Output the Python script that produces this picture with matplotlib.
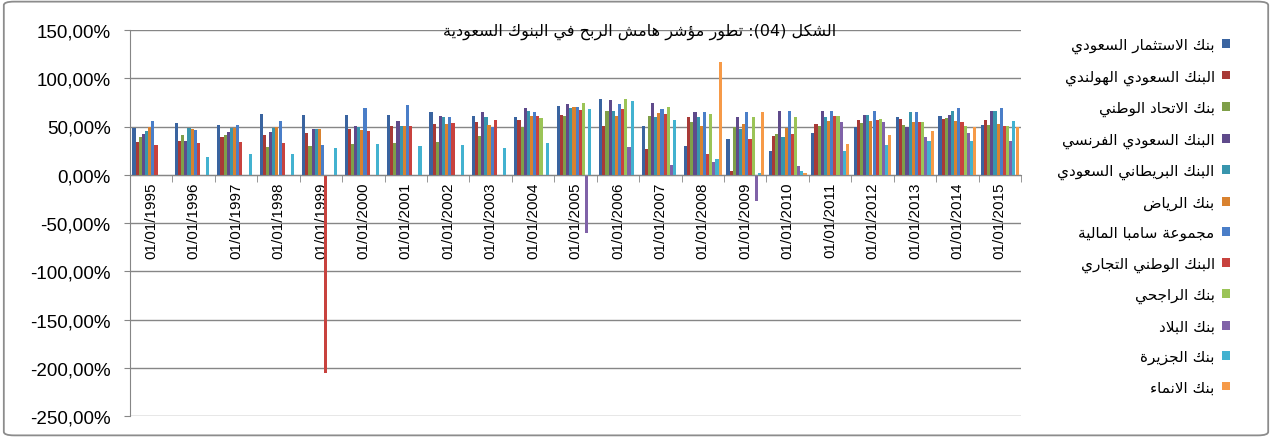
import numpy as np
import matplotlib.pyplot as plt
from matplotlib.patches import FancyBboxPatch

# ================= DATA (profit margin, %) =================
years = ["01/01/%d" % y for y in range(1995, 2016)]

banks = [
    "بنك الاستثمار السعودي",
    "البنك السعودي الهولندي",
    "بنك الاتحاد الوطني",
    "البنك السعودي الفرنسي",
    "البنك البريطاني السعودي",
    "بنك الرياض",
    "مجموعة سامبا المالية",
    "البنك الوطني التجاري",
    "بنك الراجحي",
    "بنك البلاد",
    "بنك الجزيرة",
    "بنك الانماء",
]

saib   = [48, 54, 52, 63, 62, 62, 62, 65, 61, 60, 71, 79, 51, 30, 37, 25, 43, 50, 60, 61, 52]
shb    = [34, 35, 39, 41, 43, 47, 51, 53, 55, 57, 62, 51, 27, 60, 4, 40, 53, 57, 58, 58, 57]
anb    = [39, 41, 41, 29, 30, 32, 33, 34, 40, 49, 61, 66, 61, 55, 50, 42, 51, 54, 52, 59, 52]
bsf    = [42, 35, 44, 44, 47, 51, 56, 61, 65, 69, 73, 77, 74, 65, 60, 66, 66, 62, 50, 62, 66]
sabb   = [45, 48, 48, 48, 47, 49, 51, 60, 60, 66, 69, 66, 60, 60, 47, 39, 60, 62, 65, 66, 66]
riyad  = [49, 47, 48, 50, 47, 46, 51, 53, 52, 61, 70, 61, 64, 51, 53, 48, 56, 56, 55, 56, 53]
samba  = [56, 46, 52, 56, 31, 69, 72, 60, 49, 65, 70, 73, 68, 65, 65, 66, 66, 66, 65, 69, 69]
ncb    = [31, 33, 34, 33, -205, 45, 51, 54, 57, 61, 67, 68, 63, 21, 37, 42, 61, 57, 55, 55, 51]
rajhi  = [0, 0, 0, 0, 0, 0, 0, 0, 0, 59, 74, 79, 70, 63, 60, 60, 61, 58, 55, 51, 51]
bilad  = [0, 0, 0, 0, 0, 0, 0, 0, 0, 0, -60, 29, 10, 13, -27, 9, 55, 55, 39, 43, 35]
jazira = [0, 18, 22, 22, 28, 32, 30, 31, 28, 33, 68, 76, 57, 16, 2, 4, 25, 31, 35, 35, 56]
inma   = [0, 0, 0, 0, 0, 0, 0, 0, 0, 0, 0, 0, 0, 117, 65, 2, 32, 41, 45, 49, 49]

series = [saib, shb, anb, bsf, sabb, riyad, samba, ncb, rajhi, bilad, jazira, inma]
colors = ["#3A64A0", "#A83A37", "#7F9F49", "#5F4A8B", "#3895AD", "#D9822F",
          "#4A7EC8", "#C8423E", "#9BC457", "#8062A8", "#43B2D0", "#F69A48"]

title = "الشكل (04): تطور مؤشر هامش الربح في البنوك السعودية"

# ================= ARABIC SHAPING =================
# matplotlib has no complex text layout, so map letters to presentation forms
# (iso code, number of forms) -> iso, final, initial, medial
FORMS = {
    '\u0621': (0xFE80, 1), '\u0622': (0xFE81, 2), '\u0623': (0xFE83, 2),
    '\u0624': (0xFE85, 2), '\u0625': (0xFE87, 2), '\u0626': (0xFE89, 4),
    '\u0627': (0xFE8D, 2), '\u0628': (0xFE8F, 4), '\u0629': (0xFE93, 2),
    '\u062A': (0xFE95, 4), '\u062B': (0xFE99, 4), '\u062C': (0xFE9D, 4),
    '\u062D': (0xFEA1, 4), '\u062E': (0xFEA5, 4), '\u062F': (0xFEA9, 2),
    '\u0630': (0xFEAB, 2), '\u0631': (0xFEAD, 2), '\u0632': (0xFEAF, 2),
    '\u0633': (0xFEB1, 4), '\u0634': (0xFEB5, 4), '\u0635': (0xFEB9, 4),
    '\u0636': (0xFEBD, 4), '\u0637': (0xFEC1, 4), '\u0638': (0xFEC5, 4),
    '\u0639': (0xFEC9, 4), '\u063A': (0xFECD, 4), '\u0641': (0xFED1, 4),
    '\u0642': (0xFED5, 4), '\u0643': (0xFED9, 4), '\u0644': (0xFEDD, 4),
    '\u0645': (0xFEE1, 4), '\u0646': (0xFEE5, 4), '\u0647': (0xFEE9, 4),
    '\u0648': (0xFEED, 2), '\u0649': (0xFEEF, 2), '\u064A': (0xFEF1, 4),
}
LAM_ALEF = {'\u0627': 0xFEFB, '\u0623': 0xFEF7, '\u0625': 0xFEF9, '\u0622': 0xFEF5}
MIRROR = {'(': ')', ')': '('}


def shape(s):
    toks = []
    i = 0
    while i < len(s):
        c = s[i]
        if c == '\u0644' and i + 1 < len(s) and s[i + 1] in LAM_ALEF:
            toks.append((LAM_ALEF[s[i + 1]], 2))
            i += 2
            continue
        toks.append(FORMS.get(c, c))
        i += 1
    out = []
    for j, t in enumerate(toks):
        if isinstance(t, str):
            out.append(t)
            continue
        base, n = t
        prev = toks[j - 1] if j > 0 else None
        nxt = toks[j + 1] if j + 1 < len(toks) else None
        jp = isinstance(prev, tuple) and prev[1] == 4
        jn = n == 4 and isinstance(nxt, tuple)
        if jp and jn:
            code = base + 3
        elif jn:
            code = base + 2
        elif jp and n > 1:
            code = base + 1
        else:
            code = base
        out.append(chr(code))
    return "".join(out)


def visual(s):
    r = shape(s)[::-1]
    out, digits = [], ""
    for c in r:
        if c.isdigit():
            digits += c
            continue
        if digits:
            out.append(digits[::-1])
            digits = ""
        out.append(MIRROR.get(c, c))
    if digits:
        out.append(digits[::-1])
    return "".join(out)


# ================= PLOT =================
W, H = 1272, 439
fig = plt.figure(figsize=(W / 100, H / 100), dpi=100)
ax = fig.add_axes([130 / W, 1 - 417 / H, (1021 - 130) / W, (417 - 31) / H])

grey = "#868686"
# spine position first: moving it resets the tick objects
ax.spines["bottom"].set_position(("data", 0))
ax.spines["bottom"].set_color(grey)
ax.spines["bottom"].set_zorder(4)
ax.spines["left"].set_color(grey)
ax.spines["top"].set_visible(False)
ax.spines["right"].set_visible(False)

x = np.arange(len(years))
w = 1 / 13.5
for k, vals in enumerate(series):
    ax.bar(x + (k - 5.5) * w, vals, width=w, color=colors[k], linewidth=0,
           label=visual(banks[k]), zorder=3)

ax.set_xlim(-0.5, len(years) - 0.5)
ax.set_ylim(-250, 150)
yt = np.arange(-250, 151, 50)
ax.set_yticks(yt)
ax.set_yticklabels([("%.2f%%" % v).replace(".", ",") for v in yt],
                   fontsize=13.5, family="Liberation Sans")
ax.yaxis.grid(True, color=grey, lw=1)
ax.set_axisbelow(True)

ax.set_xticks(x)
ax.set_xticklabels(years, rotation=90, fontsize=11, family="Liberation Sans")
ax.set_xticks(np.arange(-0.5, len(years)), minor=True)
ax.tick_params(axis="x", which="major", length=0, pad=5)
ax.tick_params(axis="x", which="minor", length=5, color=grey, direction="out")
ax.tick_params(axis="y", length=4, color=grey, direction="out", pad=10)

fig.text(640 / W, 1 - 32 / H, visual(title), ha="center", va="center",
         fontsize=11.5, family="DejaVu Sans")

h, l = ax.get_legend_handles_labels()
fig.legend(h, l, loc="upper right", bbox_to_anchor=(1230 / W, 1 - 38 / H),
           frameon=False, markerfirst=False, prop={"family": "DejaVu Sans", "size": 11},
           labelspacing=1.0, handlelength=0.5, handleheight=0.5, handletextpad=0.5,
           borderpad=0, borderaxespad=0)

fig.patches.append(FancyBboxPatch((0.003, 0.006), 0.994, 0.988, transform=fig.transFigure,
                                  boxstyle="round,pad=0,rounding_size=0.008",
                                  fill=False, ec="#8c8c8c", lw=1.3))

fig.savefig("out.png", dpi=100)
